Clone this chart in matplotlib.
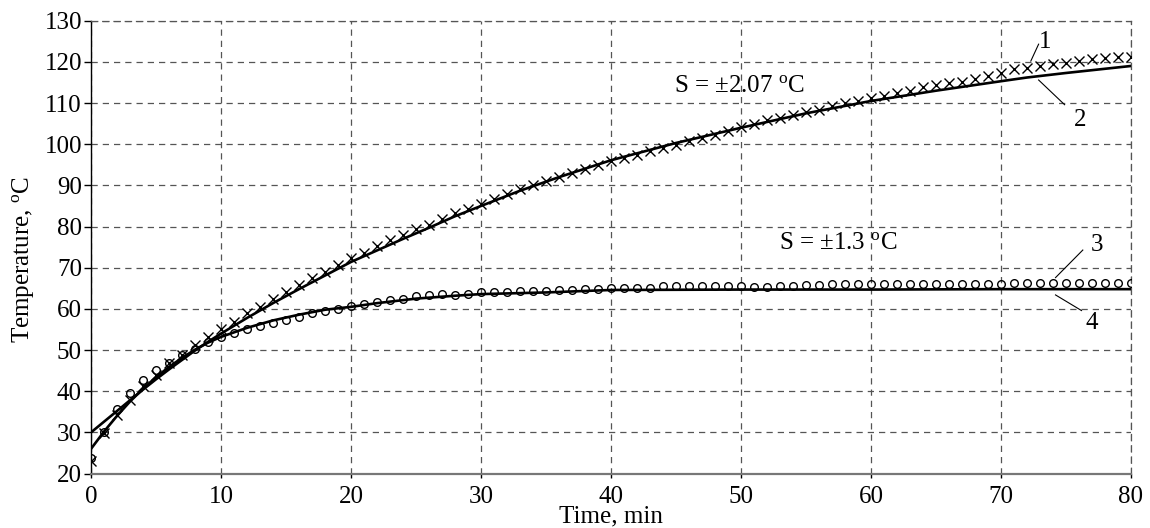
import numpy as np
import matplotlib
matplotlib.use("Agg")
import matplotlib.pyplot as plt

plt.rcParams['font.family'] = ['Liberation Serif', 'DejaVu Serif']
plt.rcParams['mathtext.fontset'] = 'custom'
plt.rcParams['mathtext.rm'] = 'Liberation Serif'
plt.rcParams['mathtext.it'] = 'Liberation Serif:italic'

# measured points, one per minute (0..80)
t_meas = np.arange(0, 81)
temp_1 = [23.0, 29.8, 34.3, 38.0, 41.2, 44.0, 46.8, 48.8, 51.2, 53.2,
          55.1, 56.8, 58.9, 60.5, 62.3, 64.0, 65.8, 67.4, 69.0, 70.6,
          72.3, 73.7, 75.2, 76.7, 78.0, 79.4, 80.5, 81.8, 83.2, 84.3,
          85.6, 86.7, 88.0, 89.2, 90.2, 91.0, 92.1, 93.0, 94.0, 94.9,
          95.9, 96.7, 97.5, 98.3, 99.1, 99.9, 100.7, 101.5, 102.3, 103.3,
          104.3, 105.0, 105.8, 106.4, 107.1, 107.8, 108.4, 109.3, 110.0, 110.6,
          111.2, 111.8, 112.4, 113.0, 113.8, 114.4, 114.8, 115.2, 115.8, 116.6,
          117.4, 118.2, 118.6, 119.1, 119.4, 119.8, 120.3, 120.6, 120.9, 121.1,
          121.1]
temp_3 = [23.8, 30.0, 35.6, 39.6, 42.8, 45.1, 46.9, 48.8, 50.3, 51.9,
          53.2, 54.2, 55.1, 55.9, 56.6, 57.4, 58.1, 58.9, 59.5, 60.1,
          60.6, 61.3, 61.7, 62.2, 62.5, 63.2, 63.4, 63.7, 63.4, 63.7,
          64.0, 64.1, 64.0, 64.3, 64.3, 64.4, 64.6, 64.7, 64.8, 64.9,
          65.1, 65.1, 65.1, 65.2, 65.5, 65.5, 65.5, 65.5, 65.5, 65.5,
          65.5, 65.4, 65.4, 65.5, 65.6, 65.8, 65.9, 66.1, 66.1, 66.1,
          66.1, 66.1, 66.1, 66.1, 66.1, 66.1, 66.1, 66.1, 66.1, 66.1,
          66.1, 66.2, 66.2, 66.2, 66.2, 66.2, 66.2, 66.2, 66.2, 66.2,
          66.2]

# calculated curves
t_calc2 = [0, 1, 2, 3, 4, 5, 6, 7, 8, 9, 10, 12, 14, 16, 18, 20, 22, 24, 26,
           28, 30, 33, 36, 40, 45, 50, 55, 60, 65, 70, 72, 75, 80]
temp_2 = [30.0, 32.6, 35.2, 37.8, 40.4, 42.9, 45.3, 47.6, 49.9, 52.0, 54.0,
          57.8, 61.4, 64.8, 68.1, 71.4, 74.2, 77.0, 79.7, 82.5, 85.0, 88.7,
          92.0, 96.1, 100.3, 104.0, 107.5, 110.5, 113.0, 115.3, 116.2, 117.3,
          119.0]
t_calc4 = [0, 1, 2, 3, 4, 5, 6, 7, 8, 9, 10, 12, 14, 16, 18, 20, 22, 25, 28,
           30, 35, 40, 50, 60, 70, 80]
temp_4 = [26.0, 30.2, 34.0, 37.5, 40.6, 43.4, 45.9, 48.1, 50.1, 51.8, 53.2,
          55.4, 57.2, 58.6, 59.8, 60.5, 61.4, 62.5, 63.2, 63.6, 64.0, 64.6,
          64.7, 64.7, 64.8, 64.8]

fig = plt.figure(figsize=(11.5, 5.28), dpi=100)
ax = fig.add_axes([0.0791, 0.103, 0.9043, 0.8578])

ax.plot(t_calc2, temp_2, color='black', lw=1.9, zorder=3)
ax.plot(t_calc4, temp_4, color='black', lw=1.9, zorder=3)
ax.plot(t_meas, temp_1, ls='none', marker='x', ms=7.5, mew=1.0, color='black', zorder=4)
ax.plot(t_meas, temp_3, ls='none', marker='o', ms=5.5, mew=1.0, mfc='none', color='black', zorder=4)

ax.set_xlim(0, 80)
ax.set_ylim(20, 130)
ax.set_xticks(range(0, 81, 10))
ax.set_yticks(range(20, 131, 10))
ax.grid(True, color='#555555', ls=(0, (5, 4)), lw=0.9)

for s in ['top', 'right']:
    ax.spines[s].set_color('#555555')
    ax.spines[s].set_linestyle((0, (5, 4)))
    ax.spines[s].set_linewidth(0.9)
ax.spines['bottom'].set_color('#777777')
ax.spines['bottom'].set_linewidth(1.6)
ax.spines['left'].set_linewidth(1.0)

ax.tick_params(axis='y', direction='out', length=5, width=1, pad=1.5, labelsize=18)
ax.tick_params(axis='x', direction='out', length=3, width=1, pad=6, labelsize=18)

ax.set_xlabel('Time, min', fontsize=18)
ax.set_ylabel('Temperature, $^{\\mathrm{o}}$C', fontsize=18)
ax.xaxis.set_label_coords(0.5, -0.071)
ax.yaxis.set_label_coords(-0.053, 0.472)

ax.text(49.9, 114.2, 'S = \u00b12.07 $^{\\mathrm{o}}$C', fontsize=18, ha='center', va='center')
ax.text(57.5, 76.1, 'S = \u00b11.3 $^{\\mathrm{o}}$C', fontsize=18, ha='center', va='center')

ax.text(73.4, 124.8, '1', fontsize=18, ha='center', va='center')
ax.plot([72.9, 72.3], [124.3, 120.2], color='black', lw=0.8)
ax.text(76.1, 106.0, '2', fontsize=18, ha='center', va='center')
ax.plot([72.9, 74.9], [115.6, 109.6], color='black', lw=0.8)
ax.text(77.4, 75.6, '3', fontsize=18, ha='center', va='center')
ax.plot([76.3, 74.2], [74.3, 67.6], color='black', lw=0.8)
ax.text(77.0, 56.5, '4', fontsize=18, ha='center', va='center')
ax.plot([74.2, 76.2], [63.4, 59.6], color='black', lw=0.8)

plt.savefig('out.png', dpi=100)
